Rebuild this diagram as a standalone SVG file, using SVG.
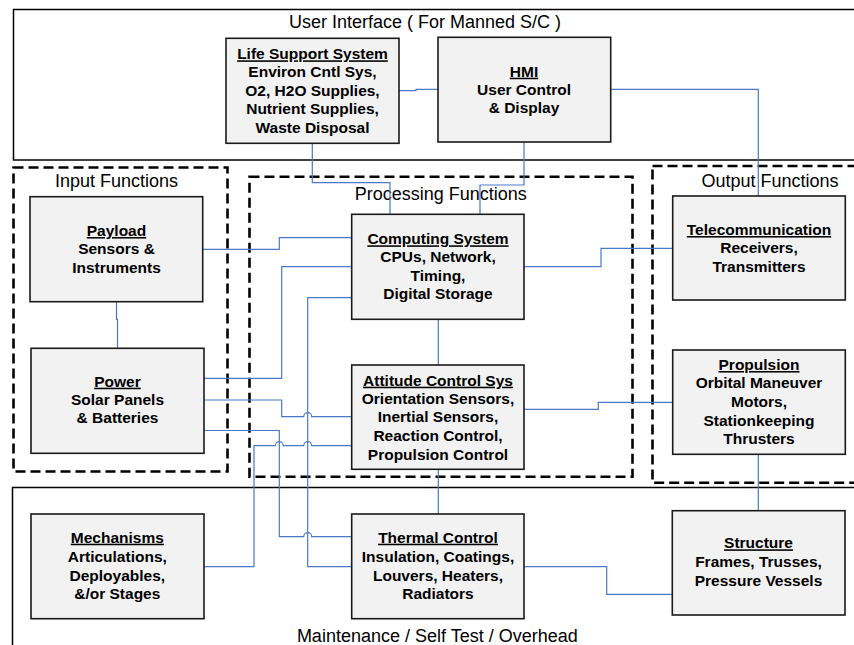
<svg xmlns="http://www.w3.org/2000/svg" width="854" height="645" viewBox="0 0 854 645">
<style>
.sec{fill:none;stroke:#000;stroke-width:1.5}
.dash{fill:none;stroke:#000;stroke-width:2.6;stroke-dasharray:10 5}
.box{fill:#f2f2f2;stroke:#1a1a1a;stroke-width:1.6}
.st{font-family:"Liberation Sans",Arial,sans-serif;font-size:18px;fill:#000;text-anchor:middle}
.t{font-family:"Liberation Sans",Arial,sans-serif;font-size:15.5px;font-weight:bold;fill:#000;text-anchor:middle}
.u{text-decoration:underline}
.c{fill:none;stroke:#4a78c8;stroke-width:1.2}
</style>
<rect width="854" height="645" fill="#fff"/>
<g id="sections">
<rect class="sec" x="13.5" y="9.5" width="870" height="150.5"/>
<text class="st" x="425" y="28.3">User Interface ( For Manned S/C )</text>
<rect class="sec" x="12.5" y="487.5" width="870" height="180"/>
<text class="st" x="437.3" y="642">Maintenance / Self Test / Overhead</text>
<rect class="dash" x="13.5" y="167.5" width="214" height="304"/>
<text class="st" x="116.5" y="186.7">Input Functions</text>
<rect class="dash" x="249.5" y="176.7" width="383" height="300"/>
<text class="st" x="440.8" y="200">Processing Functions</text>
<rect class="dash" x="652.5" y="166" width="230" height="316.7"/>
<text class="st" x="770" y="186.7">Output Functions</text>
</g>
<g id="connectors">
<path class="c" d="M399,90.7 H416 V89.3 H438"/>
<path class="c" d="M610.7,89.3 H758.3 V196"/>
<path class="c" d="M312.3,143.3 V182.7 H390 V214.3"/>
<path class="c" d="M524,142 V185 H480 V214.3"/>
<path class="c" d="M116.5,301.7 V319.3 H117.5 V348.3"/>
<path class="c" d="M202.7,249.3 H279.3 V237.7 H351.7"/>
<path class="c" d="M204,378.3 H281.7 V266.7 H351.7"/>
<path class="c" d="M204,400 H281.7 V416.7 H303.7 a4,4 0 0 1 8,0 H351.7"/>
<path class="c" d="M204,430.5 H279.3 V536.7 H303.7 a4,4 0 0 1 8,0 H351.7"/>
<path class="c" d="M204,566.7 H254 V445.7 H275.3 a4,4 0 0 1 8,0 H303.7 a4,4 0 0 1 8,0 H351.7"/>
<path class="c" d="M351.7,297.7 H307.7 V566.7 H351.7"/>
<path class="c" d="M438.3,319.3 V365"/>
<path class="c" d="M438.3,469.3 V514"/>
<path class="c" d="M524,266.7 H601 V248.3 H672.7"/>
<path class="c" d="M524,409.3 H598.3 V402.3 H672.7"/>
<path class="c" d="M758.3,454.3 V510.7"/>
<path class="c" d="M524,566.7 H606.7 V594.3 H672.3"/>
</g>
<g id="life-support">
<rect class="box" x="226" y="38.3" width="173" height="105"/>
<text class="t" x="312.5"><tspan class="u" x="312.5" y="59.3">Life Support System</tspan><tspan x="312.5" y="77.3">Environ Cntl Sys,</tspan><tspan x="312.5" y="96">O2, H2O Supplies,</tspan><tspan x="312.5" y="114.3">Nutrient Supplies,</tspan><tspan x="312.5" y="132.7">Waste Disposal</tspan></text>
</g>
<g id="hmi">
<rect class="box" x="438" y="37.3" width="172.7" height="104.7"/>
<text class="t" x="524"><tspan class="u" x="524" y="76.7">HMI</tspan><tspan x="524" y="95">User Control</tspan><tspan x="524" y="113.3">&amp; Display</tspan></text>
</g>
<g id="payload">
<rect class="box" x="30" y="196.7" width="172.7" height="105"/>
<text class="t" x="116.5"><tspan class="u" x="116.5" y="236">Payload</tspan><tspan x="116.5" y="254">Sensors &amp;</tspan><tspan x="116.5" y="272.7">Instruments</tspan></text>
</g>
<g id="power">
<rect class="box" x="31" y="348.3" width="173" height="105"/>
<text class="t" x="117.5"><tspan class="u" x="117.5" y="386.7">Power</tspan><tspan x="117.5" y="405">Solar Panels</tspan><tspan x="117.5" y="423.3">&amp; Batteries</tspan></text>
</g>
<g id="computing">
<rect class="box" x="351.7" y="214.3" width="172.3" height="105"/>
<text class="t" x="438"><tspan class="u" x="438" y="244.3">Computing System</tspan><tspan x="438" y="262">CPUs, Network,</tspan><tspan x="438" y="280.7">Timing,</tspan><tspan x="438" y="299.3">Digital Storage</tspan></text>
</g>
<g id="attitude">
<rect class="box" x="351.7" y="365" width="172.3" height="104.3"/>
<text class="t" x="438"><tspan class="u" x="438" y="385.7">Attitude Control Sys</tspan><tspan x="438" y="404">Orientation Sensors,</tspan><tspan x="438" y="422.3">Inertial Sensors,</tspan><tspan x="438" y="441">Reaction Control,</tspan><tspan x="438" y="460">Propulsion Control</tspan></text>
</g>
<g id="telecom">
<rect class="box" x="672.7" y="196" width="172.6" height="104"/>
<text class="t" x="759"><tspan class="u" x="759" y="235">Telecommunication</tspan><tspan x="759" y="252.7">Receivers,</tspan><tspan x="759" y="271.7">Transmitters</tspan></text>
</g>
<g id="propulsion">
<rect class="box" x="672.7" y="350" width="172.6" height="104.3"/>
<text class="t" x="759"><tspan class="u" x="759" y="370">Propulsion</tspan><tspan x="759" y="388">Orbital Maneuver</tspan><tspan x="759" y="406.7">Motors,</tspan><tspan x="759" y="425.7">Stationkeeping</tspan><tspan x="759" y="444">Thrusters</tspan></text>
</g>
<g id="mechanisms">
<rect class="box" x="31" y="514" width="173" height="104.7"/>
<text class="t" x="117.3"><tspan class="u" x="117.3" y="542.7">Mechanisms</tspan><tspan x="117.3" y="561.7">Articulations,</tspan><tspan x="117.3" y="580.7">Deployables,</tspan><tspan x="117.3" y="599">&amp;/or Stages</tspan></text>
</g>
<g id="thermal">
<rect class="box" x="351.7" y="514" width="172.3" height="104.7"/>
<text class="t" x="438"><tspan class="u" x="438" y="542.7">Thermal Control</tspan><tspan x="438" y="561.7">Insulation, Coatings,</tspan><tspan x="438" y="580.7">Louvers, Heaters,</tspan><tspan x="438" y="599">Radiators</tspan></text>
</g>
<g id="structure">
<rect class="box" x="672.3" y="510.7" width="172.7" height="104.3"/>
<text class="t" x="758.5"><tspan class="u" x="758.5" y="548.3">Structure</tspan><tspan x="758.5" y="567.3">Frames, Trusses,</tspan><tspan x="758.5" y="586">Pressure Vessels</tspan></text>
</g>
</svg>
